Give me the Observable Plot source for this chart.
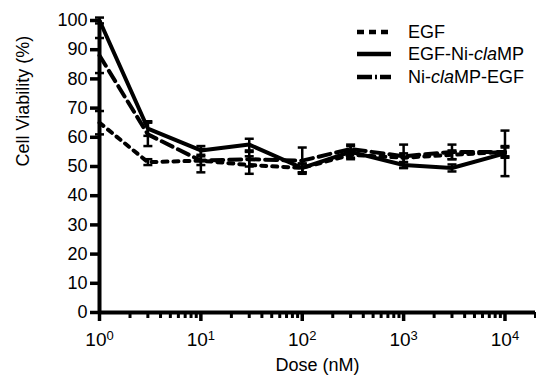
<!DOCTYPE html>
<html>
<head>
<meta charset="utf-8">
<script src="https://cdn.jsdelivr.net/npm/d3@7"></script>
<script src="https://cdn.jsdelivr.net/npm/@observablehq/plot@0.6"></script>
<style>
  html, body { margin: 0; padding: 0; background: #fff; }
  #chart { width: 536px; height: 381px; }
  svg { font-family: "Liberation Sans", Arial, sans-serif; }
</style>
</head>
<body>
<div id="chart"></div>
<script>
const doses = [1, 3, 10, 30, 100, 300, 1000, 3000, 10000];
const seriesNames = ["EGF", "EGF-Ni-claMP", "Ni-claMP-EGF"];
const egf = [65, 51.5, 52, 50.5, 49.5, 54, 53, 54, 55];
const egfErr = [4, 1, 1.5, 3, 1.5, 1.5, 1.5, 1.5, 1.5];
const egfNi = [100, 63, 55.5, 57.5, 49.5, 55, 50.5, 49.5, 54.5];
const egfNiErr = [1, 2.5, 1.5, 2, 1.5, 2, 1, 1.2, 7.8];
const niEgf = [88, 61, 52, 52.5, 52, 56, 53.5, 55, 55];
const niEgfErr = [6, 4, 4, 2.5, 4.5, 1.5, 4, 2.5, 2];
const yTicks = [0, 10, 20, 30, 40, 50, 60, 70, 80, 90, 100];
const xMajor = [1, 10, 100, 1000, 10000];

const seriesVals = [egf, egfNi, niEgf];
const seriesErr = [egfErr, egfNiErr, niEgfErr];
const dashes = ["5,6", null, "12,6"];

const rows = [];
seriesNames.forEach((s, i) => doses.forEach((d, j) => rows.push({
  series: s, dose: d, v: seriesVals[i][j], lo: seriesVals[i][j] - seriesErr[i][j], hi: seriesVals[i][j] + seriesErr[i][j]
})));

const xMinor = [];
for (let e = 0; e <= 4; e++) for (let k = 2; k <= 9; k++) { const t = k * 10 ** e; if (t <= 20000) xMinor.push(t); }
xMinor.push(20000);

const capSymbol = { draw(ctx) { ctx.moveTo(-4.5, 0); ctx.lineTo(4.5, 0); } };

const marks = [];
seriesNames.forEach((s, i) => {
  const d = rows.filter(r => r.series === s);
  marks.push(Plot.ruleX(d, { x: "dose", y1: "lo", y2: "hi", stroke: "black", strokeWidth: 2.5 }));
  marks.push(Plot.dot(d, { x: "dose", y: "lo", symbol: capSymbol, r: 4, stroke: "black", strokeWidth: 2.5, fill: "none" }));
  marks.push(Plot.dot(d, { x: "dose", y: "hi", symbol: capSymbol, r: 4, stroke: "black", strokeWidth: 2.5, fill: "none" }));
  marks.push(Plot.line(d, { x: "dose", y: "v", stroke: "black", strokeWidth: 4, strokeDasharray: dashes[i] }));
});

const plot = Plot.plot({
  width: 536, height: 381,
  marginLeft: 99, marginRight: 1, marginTop: 20, marginBottom: 69,
  style: { fontFamily: "Liberation Sans, Arial, sans-serif", background: "white", overflow: "visible" },
  x: { type: "log", domain: [1, 20000] },
  y: { domain: [0, 100] },
  marks: [
    Plot.axisY({ ticks: yTicks, tickSize: 9, tickPadding: 3, strokeWidth: 3.5, fontSize: 18, fill: "black", label: null }),
    Plot.axisX({ ticks: xMinor, tickSize: 6, strokeWidth: 3, tickFormat: () => "", label: null }),
    Plot.axisX({ ticks: xMajor, tickSize: 9, strokeWidth: 3.5, tickPadding: 11, fontSize: 19, fill: "black",
      tickFormat: d => "10|" + Math.round(Math.log10(d)), label: null }),
    ...marks,
    Plot.ruleX([1], { stroke: "black", strokeWidth: 4 }),
    Plot.ruleY([0], { stroke: "black", strokeWidth: 4 }),
    Plot.text(["Dose (nM)"], { frameAnchor: "bottom", dy: 58, fontSize: 18, fill: "black" }),
    Plot.text(["Cell Viability (%)"], { frameAnchor: "left", dx: -76, rotate: -90, fontSize: 18, fill: "black" })
  ]
});

// superscript exponents on x tick labels
d3.select(plot).selectAll('g[aria-label="x-axis tick label"] text').each(function () {
  const t = d3.select(this);
  const txt = t.text();
  if (!txt.includes("|")) return;
  const [base, exp] = txt.split("|");
  t.text(null);
  t.append("tspan").text(base);
  t.append("tspan").attr("dy", "-0.45em").attr("font-size", "13px").text(exp);
});

// legend
const svg = d3.select(plot);
const lg = svg.append("g").attr("font-size", 18).attr("fill", "black").attr("text-anchor", "start");
const legendY = [32, 54, 77];
const legendLabels = [["EGF"], ["EGF-Ni-", "cla", "MP"], ["Ni-", "cla", "MP-EGF"]];
seriesNames.forEach((s, i) => {
  lg.append("line").attr("x1", 357).attr("x2", 391).attr("y1", legendY[i]).attr("y2", legendY[i])
    .attr("stroke", "black").attr("stroke-width", 4.5)
    .attr("stroke-dasharray", i === 0 ? "7,5" : i === 2 ? "15,3,2,3" : null);
  const tx = lg.append("text").attr("x", 408).attr("y", legendY[i]).attr("dy", "0.35em");
  legendLabels[i].forEach(p => tx.append("tspan").attr("font-style", p === "cla" ? "italic" : null).text(p));
});

document.getElementById("chart").appendChild(plot);
</script>
</body>
</html>
